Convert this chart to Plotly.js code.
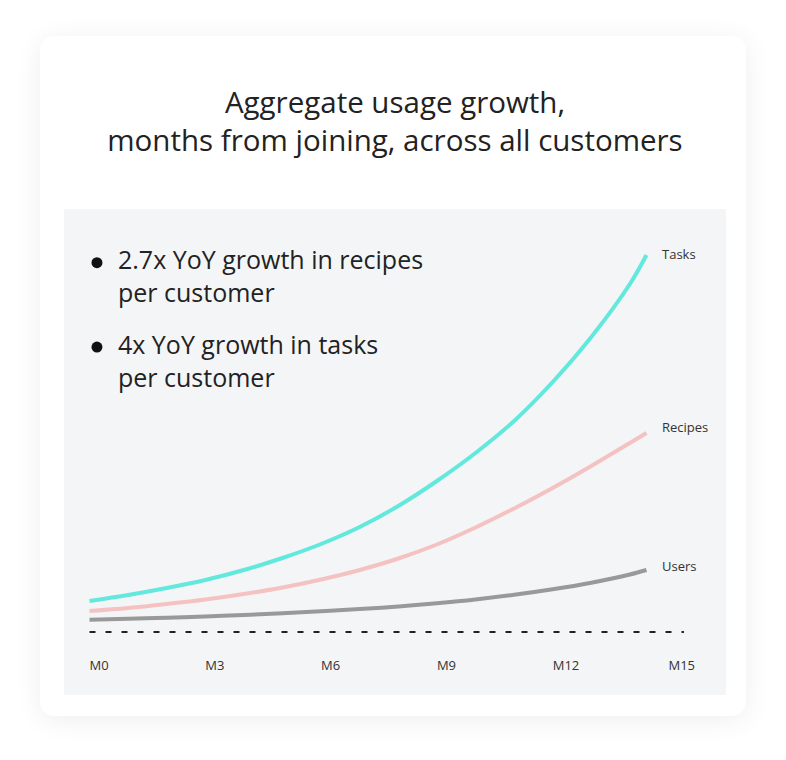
<!DOCTYPE html>
<html>
<head>
<meta charset="utf-8">
<script src="https://cdn.plot.ly/plotly-3.0.1.min.js"></script>
<style>
  html, body { margin: 0; padding: 0; background: #ffffff; }
  body { width: 786px; height: 760px; position: relative; overflow: hidden; }
  #card {
    position: absolute; left: 40px; top: 36px; width: 706px; height: 680px;
    background: #ffffff; border-radius: 14px;
    box-shadow: 0 4px 28px rgba(0, 0, 0, 0.07);
  }
  #panel {
    position: absolute; left: 64px; top: 209px; width: 662px; height: 486px;
    background: #f4f5f7;
  }
  #chart { position: absolute; left: 0; top: 0; width: 786px; height: 760px; }
</style>
</head>
<body>
<div id="card"></div>
<div id="panel"></div>
<div id="chart"></div>
<script>
// months from joining (last point = where the curves stop)
const months  = [0, 1, 2, 3, 4, 5, 6, 7, 8, 9, 10, 11, 12, 13, 14, 14.43];
const tasks   = [31, 37, 44, 52, 62, 74, 88, 105, 126, 151, 179, 211, 250, 295, 348, 377];
const recipes = [21, 24, 28, 32.5, 38, 44.5, 52.5, 62, 73.5, 87.5, 104.5, 123.5, 144, 166, 189, 199];
const users   = [12.3, 13.2, 14.3, 15.6, 17.1, 18.8, 20.7, 22.9, 25.6, 28.8, 32.6, 37.2, 42.7, 49.3, 57.5, 62];

const seriesNames  = ['Tasks', 'Recipes', 'Users'];
const seriesValues = [tasks, recipes, users];
const seriesColors = ['#62e8dc', '#f5c2c2', '#999999'];
const labelShiftY  = [1, 6, 4];

const tickVals  = [0, 3, 6, 9, 12, 15];
const tickTexts = ['M0', 'M3', 'M6', 'M9', 'M12', 'M15'];

const baselineX = [0, 15.4];
const baselineY = [0, 0];

const bullets = [
  '2.7x YoY growth in recipes<br>per customer',
  '4x YoY growth in tasks<br>per customer'
];

const FONT = '"Open Sans", Lato, sans-serif';

const traces = [{
  x: baselineX, y: baselineY, type: 'scatter', mode: 'lines',
  line: { color: '#222222', width: 2, dash: '6px,10px' },
  hoverinfo: 'skip', showlegend: false
}];

seriesNames.forEach((name, i) => {
  traces.push({
    x: months, y: seriesValues[i], type: 'scatter', mode: 'lines', name: name,
    line: { color: seriesColors[i], width: 4, shape: 'spline', smoothing: 1 },
    showlegend: false
  });
});

// labels at the end of each curve
const annotations = seriesNames.map((name, i) => ({
  x: months[months.length - 1], y: seriesValues[i][seriesValues[i].length - 1],
  xref: 'x', yref: 'y', text: name, showarrow: false,
  xanchor: 'left', yanchor: 'middle', xshift: 14, yshift: labelShiftY[i],
  font: { family: FONT, size: 13, color: '#333333' }
}));

// bullet texts
const bulletY = [0.8505, 0.6615];
const dotY = [0.880, 0.691];
bullets.forEach((txt, i) => {
  annotations.push({
    x: 0.078, y: bulletY[i], xref: 'paper', yref: 'paper',
    text: txt, showarrow: false, align: 'left',
    xanchor: 'left', yanchor: 'middle',
    font: { family: FONT, size: 25, color: '#222222' }
  });
});

const shapes = dotY.map(y => ({
  type: 'circle', xref: 'paper', yref: 'paper',
  xsizemode: 'pixel', ysizemode: 'pixel',
  xanchor: 0.0498, yanchor: y,
  x0: -5.5, x1: 5.5, y0: -5.5, y1: 5.5,
  fillcolor: '#111111', line: { width: 0 }
}));

const layout = {
  width: 786, height: 760,
  margin: { l: 64, r: 60, t: 209, b: 104 },
  paper_bgcolor: 'rgba(0,0,0,0)',
  plot_bgcolor: 'rgba(0,0,0,0)',
  font: { family: FONT, color: '#222222' },
  title: {
    text: 'Aggregate usage growth,<br>months from joining, across all customers',
    font: { family: FONT, size: 29.5, color: '#222222' },
    x: 0.5, xref: 'paper', xanchor: 'center',
    y: 1 - 113 / 760, yref: 'container', yanchor: 'middle'
  },
  xaxis: {
    range: [-0.661, 16.49], showgrid: false, zeroline: false, showline: false,
    tickvals: tickVals, ticktext: tickTexts, ticks: '',
    ticklabelposition: 'outside right',
    tickfont: { family: FONT, size: 13, color: '#333333' },
    fixedrange: true
  },
  yaxis: {
    range: [-24, 423], showgrid: false, zeroline: false, showline: false,
    showticklabels: false, ticks: '', fixedrange: true
  },
  annotations: annotations,
  shapes: shapes,
  showlegend: false
};

Plotly.newPlot('chart', traces, layout, { displayModeBar: false, staticPlot: true });
</script>
</body>
</html>
